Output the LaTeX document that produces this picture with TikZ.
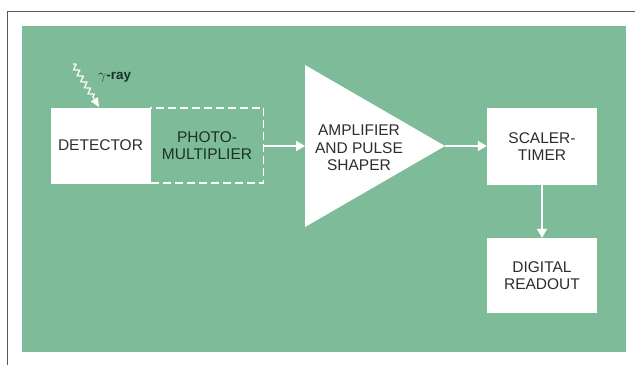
\documentclass[tikz,border=0pt]{standalone}
\usepackage{fontspec}
\setmainfont{Liberation Sans}
\usetikzlibrary{arrows.meta,decorations.pathmorphing,positioning}
\definecolor{bggreen}{RGB}{126,188,153}
\definecolor{txtdark}{RGB}{45,45,45}
\definecolor{txtgreen}{RGB}{25,50,38}
\tikzset{
  wbox/.style={fill=white, draw=none, minimum width=101pt, minimum height=76pt, inner sep=0pt, align=center, text=txtdark, font=\fontsize{15.5}{17.5}\selectfont},
  flow/.style={draw=white, line width=1.4pt, -{Triangle[width=10pt,length=9pt,fill=white]}},
}
\begin{document}
\begin{tikzpicture}[x=1pt,y=-1pt]
\useasboundingbox (0,0) rectangle (635,365);
% frame
\draw[gray!70!black, line width=1.3pt] (7.5,365) -- (7.5,11.5) -- (635,11.5);
\fill[bggreen] (22,26) rectangle (626,352);
% detector
\node[wbox, minimum width=100pt] (det) at (100.5,145.5) {DETECTOR};
% photomultiplier
\node[draw=white, dashed, dash pattern=on 8pt off 4pt, line width=1.8pt, minimum width=113pt, minimum height=75pt, inner sep=0pt, align=center, text=txtgreen, font=\fontsize{15.5}{17.5}\selectfont] (pm) at (207,145.5) {PHOTO-\\MULTIPLIER};
% amplifier triangle
\coordinate (ampL) at (305,146);
\coordinate (ampT) at (445,146);
\fill[white] (305,65) -- (ampT) -- (305,227) -- cycle;
\node[align=center, text=txtdark, font=\fontsize{15.5}{17.5}\selectfont] (amp) at (359,148) {AMPLIFIER\\AND PULSE\\SHAPER};
% scaler-timer
\node[wbox, minimum width=110pt, minimum height=77pt] (sc) at (542,146.5) {SCALER-\\TIMER};
% digital readout
\node[wbox, minimum width=110pt, minimum height=75pt] (dr) at (542,275.5) {DIGITAL\\READOUT};
% arrows
\draw[flow] (pm.east |- ampL) -- (ampL);
\draw[flow] (ampT) -- (sc.west |- ampT);
\draw[flow] (sc.south) -- (dr.north);
% gamma ray
\coordinate (gs) at (73,64);
\coordinate (ge) at (99,107);
\draw[white, line width=1.2pt, decorate, decoration={zigzag, amplitude=2.6pt, segment length=7pt, post length=9pt}, -{Triangle[width=8pt,length=9pt,fill=white]}] (gs) -- (ge);
\node[text=txtgreen, font=\bfseries\fontsize{13.5}{15}\selectfont, anchor=west, inner sep=0pt] (gr) at (98,77) {$\gamma$-ray};
\end{tikzpicture}
\end{document}
